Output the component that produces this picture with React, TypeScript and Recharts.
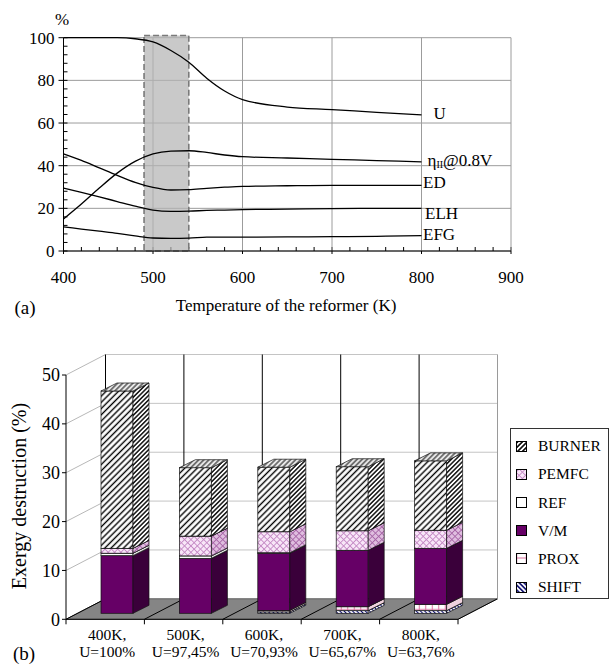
import React from "react";
import {
  Bar,
  BarChart,
  CartesianGrid,
  LabelList,
  Line,
  LineChart,
  ReferenceArea,
  XAxis,
  YAxis
} from "recharts";

// (a) reformer temperature sweep
const temps = [400, 420, 440, 460, 480, 500, 520, 540, 560, 580, 600, 650, 700, 750, 800];
const uCurve = [100, 100, 100, 100, 99.5, 98, 94, 88.5, 81, 75, 71, 67.5, 66.3, 65, 63.8];
const etaCurve = [15, 22, 29.5, 36.5, 42, 45.5, 46.8, 47, 46.2, 45, 44.2, 43.6, 43, 42.4, 41.8];
const edCurve = [45.5, 42.5, 39, 35.5, 32.2, 29.8, 28.6, 28.8, 29.4, 29.9, 30.3, 30.6, 30.8, 30.8, 30.8];
const elhCurve = [29.5, 27.5, 25.4, 23.2, 21, 19.2, 18.6, 18.7, 19, 19.2, 19.4, 19.6, 19.9, 20, 20];
const efgCurve = [11.3, 10.3, 9.3, 8.3, 7.1, 6.1, 5.9, 6, 6.5, 6.5, 6.5, 6.6, 6.7, 6.9, 7.2];

const tempTicks = [400, 500, 600, 700, 800, 900];
const pctTicks = [0, 20, 40, 60, 80, 100];
const minorPerMajor = 5;

// (b) exergy destruction per component
const tempLabels = ["400K,", "500K,", "600K,", "700K,", "800K,"];
const uLabels = ["U=100%", "U=97,45%", "U=70,93%", "U=65,67%", "U=63,76%"];
const shiftVals = [0, 0, 0.3, 0.55, 0.55];
const proxVals = [0, 0, 0.3, 0.8, 1.3];
const vmVals = [11.8, 11.25, 11.7, 11.55, 11.45];
const refVals = [0.5, 0.5, 0.1, 0, 0];
const pemfcVals = [1.0, 4.05, 4.3, 4.0, 3.7];
const burnerVals = [32.2, 14.0, 13.2, 13.1, 14.2];
const exergyTicks = [0, 10, 20, 30, 40, 50];

const lineRows = temps.map((t, i) => ({
  t,
  U: uCurve[i],
  eta: etaCurve[i],
  ED: edCurve[i],
  ELH: elhCurve[i],
  EFG: efgCurve[i]
}));

const barRows = tempLabels.map((temp, i) => ({
  temp,
  SHIFT: shiftVals[i],
  PROX: proxVals[i],
  VM: vmVals[i],
  REF: refVals[i],
  PEMFC: pemfcVals[i],
  BURNER: burnerVals[i]
}));

const FONT = '"Liberation Serif", "Times New Roman", serif';

// projection of the 3D box chart
const WALL_DX = 39.5;
const WALL_DY = -20.5;
const BAR_SX = 12;
const BAR_SY = -6;
const BAR_DX = 16;
const BAR_DY = -8;

type Skin = { front: string; side: string; top: string; swatch: string };

const skins: Record<string, Skin> = {
  SHIFT: { front: "url(#pShift)", side: "url(#pShift)", top: "url(#pShift)", swatch: "url(#pShiftKey)" },
  PROX: { front: "url(#pProx)", side: "#f0d3de", top: "#f6e4eb", swatch: "url(#pProxKey)" },
  VM: { front: "#660066", side: "#3a003a", top: "#4b004b", swatch: "#660066" },
  REF: { front: "#ffffff", side: "#e4e4e4", top: "#f0f0f0", swatch: "#ffffff" },
  PEMFC: { front: "url(#pPemfc)", side: "url(#pPemfcSide)", top: "url(#pPemfcSide)", swatch: "url(#pPemfc)" },
  BURNER: { front: "url(#pBurner)", side: "url(#pBurnerSide)", top: "url(#pBurnerTop)", swatch: "url(#pBurnerKey)" }
};

const legendItems = [
  { key: "BURNER", label: "BURNER" },
  { key: "PEMFC", label: "PEMFC" },
  { key: "REF", label: "REF" },
  { key: "VM", label: "V/M" },
  { key: "PROX", label: "PROX" },
  { key: "SHIFT", label: "SHIFT" }
];

const stackOrder = ["SHIFT", "PROX", "VM", "REF", "PEMFC", "BURNER"];

function Box3D(props: any) {
  const { x, y, width, height, skin } = props;
  if (!height || height <= 0) return null;
  const fx = x + BAR_SX;
  const fy = y + BAR_SY;
  const side = `${fx + width},${fy} ${fx + width + BAR_DX},${fy + BAR_DY} ${fx + width + BAR_DX},${fy + height + BAR_DY} ${fx + width},${fy + height}`;
  const top = `${fx},${fy} ${fx + BAR_DX},${fy + BAR_DY} ${fx + width + BAR_DX},${fy + BAR_DY} ${fx + width},${fy}`;
  return (
    <g>
      <rect x={fx} y={fy} width={width} height={height} fill={skin.front} stroke="#111" strokeWidth={0.7} />
      <polygon points={side} fill={skin.side} stroke="#111" strokeWidth={0.7} />
      <polygon points={top} fill={skin.top} stroke="#111" strokeWidth={0.7} />
    </g>
  );
}

// (a) grid lines; the first/last line also carry the small inner ticks of the axes
function renderHGrid(p: any) {
  const { x1, x2, y1 } = p;
  const top = p.y;
  const h = p.height;
  const isTop = top != null && Math.abs(y1 - top) < 0.6;
  const n = (pctTicks.length - 1) * minorPerMajor;
  return (
    <g>
      <line x1={x1} y1={y1} x2={x2} y2={y1} stroke="#9c9c9c" strokeWidth={1} />
      {isTop &&
        Array.from({ length: n + 1 }, (_, k) => (
          <line key={k} x1={x1} y1={top + (k * h) / n} x2={x1 + 4} y2={top + (k * h) / n} stroke="#000" strokeWidth={1} />
        ))}
    </g>
  );
}

function renderVGrid(p: any) {
  const { x1, y1, y2 } = p;
  const left = p.x;
  const w = p.width;
  const isLeft = left != null && Math.abs(x1 - left) < 0.6;
  const n = (tempTicks.length - 1) * minorPerMajor;
  return (
    <g>
      <line x1={x1} y1={y1} x2={x1} y2={y2} stroke="#9c9c9c" strokeWidth={1} />
      {isLeft &&
        Array.from({ length: n + 1 }, (_, k) => (
          <line key={k} x1={left + (k * w) / n} y1={y2} x2={left + (k * w) / n} y2={y2 - 4} stroke="#000" strokeWidth={1} />
        ))}
    </g>
  );
}

// (b) back wall, left wall, floor drawn from the grid lines
function renderWall(p: any) {
  const { x1, x2, y1 } = p;
  const top = p.y ?? 55;
  const bottom = (p.y ?? 55) + (p.height ?? 244.3);
  const n = tempLabels.length;
  const step = (x2 - x1) / n;
  const isFloor = Math.abs(y1 - bottom) < 0.6;
  const isTop = Math.abs(y1 - top) < 0.6;
  return (
    <g>
      <line x1={x1} y1={y1} x2={x1 + WALL_DX} y2={y1 + WALL_DY} stroke="#b8b8b8" strokeWidth={1} />
      <line x1={x1 + WALL_DX} y1={y1 + WALL_DY} x2={x2 + WALL_DX} y2={y1 + WALL_DY} stroke="#c4c4c4" strokeWidth={1} />
      {isFloor && (
        <g>
          <polygon
            points={`${x1},${y1} ${x2},${y1} ${x2 + WALL_DX},${y1 + WALL_DY} ${x1 + WALL_DX},${y1 + WALL_DY}`}
            fill="#858585"
            stroke="#555"
            strokeWidth={0.8}
          />
          {Array.from({ length: n + 1 }, (_, i) => (
            <g key={i}>
              <line x1={x1 + i * step} y1={y1} x2={x1 + i * step + WALL_DX} y2={y1 + WALL_DY} stroke="#000" strokeWidth={1} />
              <line x1={x1 + i * step} y1={y1} x2={x1 + i * step} y2={y1 + 5} stroke="#000" strokeWidth={1} />
            </g>
          ))}
        </g>
      )}
      {isTop && (
        <g>
          {Array.from({ length: n }, (_, i) => (
            <line key={i} x1={x1 + i * step + WALL_DX} y1={y1 + WALL_DY} x2={x1 + i * step + WALL_DX} y2={bottom + WALL_DY} stroke="#000" strokeWidth={1} />
          ))}
          <line x1={x2 + WALL_DX} y1={y1 + WALL_DY} x2={x2 + WALL_DX} y2={bottom + WALL_DY} stroke="#9a9a9a" strokeWidth={1} />
        </g>
      )}
    </g>
  );
}

function CategoryTick(props: any) {
  const { x, y, index } = props;
  const cx = x + 2;
  return (
    <g>
      <text x={cx} y={y + 21} textAnchor="middle" fontSize={15.5} fontFamily={FONT} fill="#000">
        {tempLabels[index]}
      </text>
      <text x={cx} y={y + 37.7} textAnchor="middle" fontSize={15.5} fontFamily={FONT} fill="#000">
        {uLabels[index]}
      </text>
    </g>
  );
}

function endLabel(text: React.ReactNode, dx: number, dy: number) {
  return (p: any) => {
    if (p.index !== temps.length - 1) return null;
    return (
      <text x={p.x + dx} y={p.y + dy} fontSize={17} fontFamily={FONT} fill="#000" dominantBaseline="central">
        {text}
      </text>
    );
  };
}

const etaText = (
  <>
    <tspan>η</tspan>
    <tspan fontSize={10} dy={4}>II</tspan>
    <tspan dy={-4}>@0.8V</tspan>
  </>
);

function Txt({ x, y, size, children, rotate }: { x: number; y: number; size: number; children: React.ReactNode; rotate?: number }) {
  return (
    <div
      style={{
        position: "absolute",
        left: x,
        top: y,
        fontSize: size,
        lineHeight: 1,
        whiteSpace: "nowrap",
        transform: `translate(-50%, -50%)${rotate ? ` rotate(${rotate}deg)` : ""}`
      }}
    >
      {children}
    </div>
  );
}

export default function App() {
  const blackTick = { fill: "#000", fontSize: 17, fontFamily: FONT };
  return (
    <div style={{ position: "absolute", left: 0, top: 0, width: 610, height: 664, background: "#fff", fontFamily: FONT, color: "#000" }}>
      <svg width={0} height={0} style={{ position: "absolute" }}>
        <defs>
          <pattern id="pBurner" width={4.4} height={4.4} patternUnits="userSpaceOnUse" patternTransform="rotate(45)">
            <rect width={4.4} height={4.4} fill="#fff" />
            <line x1={2.2} y1={0} x2={2.2} y2={4.4} stroke="#000" strokeWidth={1.4} />
          </pattern>
          <pattern id="pBurnerKey" width={3.4} height={3.4} patternUnits="userSpaceOnUse" patternTransform="rotate(45)">
            <rect width={3.4} height={3.4} fill="#fff" />
            <line x1={1.7} y1={0} x2={1.7} y2={3.4} stroke="#000" strokeWidth={1.6} />
          </pattern>
          <pattern id="pBurnerSide" width={3.2} height={3.2} patternUnits="userSpaceOnUse" patternTransform="rotate(45)">
            <rect width={3.2} height={3.2} fill="#fff" />
            <line x1={1.6} y1={0} x2={1.6} y2={3.2} stroke="#000" strokeWidth={1.4} />
          </pattern>
          <pattern id="pBurnerTop" width={3.6} height={3.6} patternUnits="userSpaceOnUse" patternTransform="rotate(45)">
            <rect width={3.6} height={3.6} fill="#e8e8e8" />
            <line x1={1.8} y1={0} x2={1.8} y2={3.6} stroke="#333" strokeWidth={1.2} />
          </pattern>
          <pattern id="pPemfc" width={4.5} height={4.5} patternUnits="userSpaceOnUse" patternTransform="rotate(45)">
            <rect width={4.5} height={4.5} fill="#f8e6f8" />
            <line x1={2.25} y1={0} x2={2.25} y2={4.5} stroke="#c58ac5" strokeWidth={0.9} />
            <line x1={0} y1={2.25} x2={4.5} y2={2.25} stroke="#c58ac5" strokeWidth={0.9} />
          </pattern>
          <pattern id="pPemfcSide" width={4.5} height={4.5} patternUnits="userSpaceOnUse" patternTransform="rotate(45)">
            <rect width={4.5} height={4.5} fill="#dfbddf" />
            <line x1={2.25} y1={0} x2={2.25} y2={4.5} stroke="#a866a8" strokeWidth={0.9} />
            <line x1={0} y1={2.25} x2={4.5} y2={2.25} stroke="#a866a8" strokeWidth={0.9} />
          </pattern>
          <pattern id="pProx" width={6.5} height={6.5} patternUnits="userSpaceOnUse">
            <rect width={6.5} height={6.5} fill="#fff" />
            <line x1={3.25} y1={0} x2={3.25} y2={6.5} stroke="#d9709f" strokeWidth={1} />
            <line x1={0} y1={3.25} x2={6.5} y2={3.25} stroke="#d9709f" strokeWidth={0.8} />
          </pattern>
          <pattern id="pProxKey" width={10} height={10} patternUnits="userSpaceOnUse" x={515.5} y={0}>
            <rect width={10} height={10} fill="#fff" />
            <line x1={5} y1={0} x2={5} y2={10} stroke="#d9709f" strokeWidth={1} />
            <line x1={0} y1={5} x2={10} y2={5} stroke="#d9709f" strokeWidth={1} />
          </pattern>
          <pattern id="pShift" width={3} height={3} patternUnits="userSpaceOnUse" patternTransform="rotate(-45)">
            <rect width={3} height={3} fill="#fff" />
            <line x1={1.5} y1={0} x2={1.5} y2={3} stroke="#101070" strokeWidth={1.1} />
          </pattern>
          <pattern id="pShiftKey" width={3.4} height={3.4} patternUnits="userSpaceOnUse" patternTransform="rotate(-45)">
            <rect width={3.4} height={3.4} fill="#fff" />
            <line x1={1.7} y1={0} x2={1.7} y2={3.4} stroke="#101070" strokeWidth={1.6} />
          </pattern>
        </defs>
      </svg>

      {/* (a) */}
      <div style={{ position: "absolute", left: 0, top: 0 }}>
        <LineChart width={610} height={320} data={lineRows} margin={{ top: 37.7, right: 99, bottom: 39, left: 13.5 }}>
          <CartesianGrid horizontal={renderHGrid} vertical={renderVGrid} />
          <ReferenceArea
            x1={490}
            x2={540}
            y1={0}
            y2={101}
            ifOverflow="visible"
            fill="#b4b4b4"
            fillOpacity={0.72}
            stroke="#7a7a7a"
            strokeDasharray="6 3"
            strokeWidth={1.6}
          />
          <XAxis
            dataKey="t"
            type="number"
            domain={[400, 900]}
            ticks={tempTicks}
            tick={blackTick}
            tickSize={3}
            tickMargin={17}
            height={30}
            axisLine={{ stroke: "#000" }}
            tickLine={{ stroke: "#000" }}
          />
          <YAxis
            type="number"
            domain={[0, 100]}
            ticks={pctTicks}
            tick={blackTick}
            tickSize={5}
            tickMargin={4}
            width={50}
            axisLine={{ stroke: "#000" }}
            tickLine={{ stroke: "#000" }}
          />
          <Line dataKey="U" type="monotone" stroke="#000" strokeWidth={1.3} dot={false} isAnimationActive={false}>
            <LabelList dataKey="U" content={endLabel("U", 12, -1)} />
          </Line>
          <Line dataKey="eta" type="monotone" stroke="#000" strokeWidth={1.3} dot={false} isAnimationActive={false}>
            <LabelList dataKey="eta" content={endLabel(etaText, 6, -2)} />
          </Line>
          <Line dataKey="ED" type="monotone" stroke="#000" strokeWidth={1.3} dot={false} isAnimationActive={false}>
            <LabelList dataKey="ED" content={endLabel("ED", 1.5, -2.5)} />
          </Line>
          <Line dataKey="ELH" type="monotone" stroke="#000" strokeWidth={1.3} dot={false} isAnimationActive={false}>
            <LabelList dataKey="ELH" content={endLabel("ELH", 3.5, 5)} />
          </Line>
          <Line dataKey="EFG" type="monotone" stroke="#000" strokeWidth={1.3} dot={false} isAnimationActive={false}>
            <LabelList dataKey="EFG" content={endLabel("EFG", 1.5, -1)} />
          </Line>
        </LineChart>
      </div>
      <Txt x={62} y={19} size={17}>%</Txt>
      <Txt x={286} y={305} size={17}>Temperature of the reformer (K)</Txt>
      <Txt x={25} y={307} size={19}>(a)</Txt>

      {/* (b) */}
      <div style={{ position: "absolute", left: 0, top: 320 }}>
        <BarChart width={610} height={344} data={barRows} margin={{ top: 55, right: 152, bottom: 4.7, left: 16 }} barSize={32}>
          <CartesianGrid vertical={false} horizontal={renderWall} />
          <XAxis
            dataKey="temp"
            interval={0}
            tick={<CategoryTick />}
            tickLine={false}
            tickSize={0}
            tickMargin={0}
            height={40}
            axisLine={{ stroke: "#000" }}
          />
          <YAxis
            type="number"
            domain={[0, 50]}
            ticks={exergyTicks}
            tick={{ fill: "#000", fontSize: 18, fontFamily: FONT }}
            tickSize={4}
            tickMargin={2}
            width={50}
            axisLine={{ stroke: "#000" }}
            tickLine={{ stroke: "#000" }}
          />
          {stackOrder.map((key) => (
            <Bar
              key={key}
              dataKey={key}
              stackId="exergy"
              isAnimationActive={false}
              shape={(p: any) => <Box3D {...p} skin={skins[key]} />}
            />
          ))}
        </BarChart>
      </div>
      <Txt x={18.5} y={496} size={20} rotate={-90}>Exergy destruction (%)</Txt>
      <Txt x={24} y={653} size={19}>(b)</Txt>

      <div
        style={{
          position: "absolute",
          left: 510,
          top: 428,
          width: 97,
          height: 169,
          border: "1px solid #333",
          background: "#fff"
        }}
      >
        {legendItems.map((item, i) => (
          <div key={item.key} style={{ position: "absolute", left: 5, top: 9 + i * 28.2, height: 16, display: "flex", alignItems: "center" }}>
            <svg width={11} height={11} style={{ display: "block" }}>
              <rect x={0.5} y={0.5} width={10} height={10} fill={skins[item.key].swatch} stroke="#000" strokeWidth={1} />
            </svg>
            <span style={{ marginLeft: 11, fontSize: 15.5, lineHeight: 1 }}>{item.label}</span>
          </div>
        ))}
      </div>
    </div>
  );
}
